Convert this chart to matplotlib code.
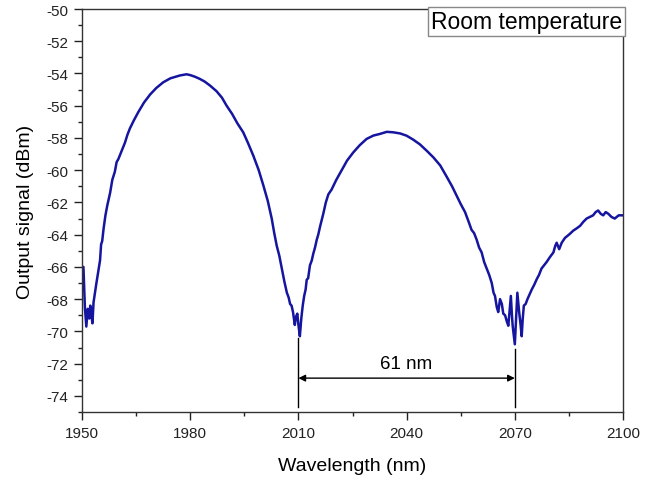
import matplotlib
matplotlib.use("Agg")
import matplotlib.pyplot as plt
from matplotlib.ticker import MultipleLocator

plt.rcParams['font.family'] = ['Liberation Sans', 'DejaVu Sans']
plt.rcParams['axes.unicode_minus'] = False

wavelength = [
    1950.0, 1950.4, 1950.8, 1951.2, 1951.6, 1952.0, 1952.3, 1952.6, 1952.9, 1953.2,
    1953.6, 1954.0, 1954.5, 1955.0, 1955.3, 1955.6, 1956.0, 1956.5, 1957.0, 1957.8,
    1958.4, 1959.1, 1959.6, 1960.1, 1961.0, 1961.9, 1962.6, 1963.3, 1964.4, 1965.6,
    1967.2, 1968.9, 1970.6, 1972.5, 1974.5, 1976.0, 1977.2, 1978.2, 1979.0, 1980.0,
    1981.3, 1982.7, 1984.0, 1985.5, 1987.3, 1988.8, 1990.1, 1991.6, 1993.1, 1994.7,
    1996.0, 1997.5, 1999.0, 2000.3, 2001.5, 2002.6, 2003.3, 2004.0, 2004.7, 2005.4,
    2006.1, 2006.8, 2007.3, 2007.7, 2008.1, 2008.5, 2009.0, 2009.3, 2009.7, 2010.0,
    2010.4, 2010.8, 2011.2, 2011.6, 2012.0, 2012.3, 2012.7, 2013.2, 2013.7, 2014.1,
    2014.6, 2015.1, 2015.5, 2016.0, 2016.9, 2017.6, 2018.3, 2019.2, 2020.5, 2022.0,
    2023.5, 2025.2, 2027.0, 2028.9, 2030.8, 2032.6, 2034.5, 2036.3, 2038.2, 2040.0,
    2041.8, 2043.7, 2045.6, 2047.4, 2049.3, 2051.1, 2052.6, 2053.9, 2055.0, 2056.2,
    2057.2, 2058.0, 2058.7, 2059.4, 2060.1, 2060.8, 2061.5, 2062.2, 2062.9, 2063.6,
    2064.1, 2064.5, 2065.0, 2065.4, 2065.9, 2066.4, 2066.8, 2067.3, 2067.8, 2068.2,
    2068.6, 2068.9, 2069.2, 2069.4, 2070.0, 2070.4, 2070.7, 2071.2, 2071.6, 2071.9,
    2072.2, 2072.5, 2073.0, 2073.5, 2074.1, 2074.7, 2075.4, 2076.1, 2076.7, 2077.4,
    2078.1, 2078.8, 2079.7, 2080.7, 2081.2, 2081.6, 2082.3, 2083.0, 2083.9, 2085.0,
    2086.2, 2087.2, 2088.1, 2089.0, 2089.9, 2090.8, 2091.7, 2092.4, 2093.1, 2093.8,
    2094.5, 2095.2, 2095.9, 2096.8, 2097.7, 2098.8, 2100.0,
]
signal_dbm = [
    -66.0, -66.0, -68.5, -69.7, -68.6, -69.2, -68.4, -69.0, -69.5, -68.2,
    -67.6, -67.0, -66.3, -65.6, -64.6, -64.4, -63.6, -62.8, -62.2, -61.4,
    -60.6, -60.1, -59.5, -59.3, -58.8, -58.3, -57.8, -57.4, -56.9, -56.4,
    -55.8, -55.3, -54.9, -54.55, -54.3, -54.2, -54.12, -54.08, -54.05, -54.1,
    -54.2, -54.34, -54.5, -54.75, -55.1, -55.5, -56.0, -56.5, -57.1, -57.65,
    -58.3, -59.1, -60.0, -60.96, -61.9, -63.0, -63.9, -64.7, -65.3, -66.1,
    -66.9, -67.6, -67.9, -68.3, -68.4, -68.8, -69.6, -69.1, -68.9, -69.6,
    -70.3, -69.2, -68.4, -67.8, -67.4, -66.8, -66.7, -65.9, -65.6, -65.2,
    -64.8, -64.3, -64.0, -63.5, -62.7, -62.0, -61.5, -61.2, -60.6, -60.0,
    -59.4, -58.9, -58.45, -58.06, -57.85, -57.75, -57.62, -57.65, -57.72, -57.86,
    -58.1, -58.4, -58.8, -59.2, -59.7, -60.4, -61.0, -61.6, -62.1, -62.6,
    -63.2, -63.7, -63.9, -64.3, -64.8, -65.1, -65.7, -66.1, -66.5, -67.0,
    -67.6, -67.8, -68.5, -68.8, -68.0, -68.3, -68.9, -69.0, -69.4, -69.65,
    -68.6, -67.8, -69.0, -69.65, -70.8, -69.0, -67.6, -68.8, -69.6, -70.3,
    -69.2, -68.4, -68.3, -68.0, -67.7, -67.4, -67.1, -66.75, -66.5, -66.1,
    -65.9, -65.7, -65.4, -65.1, -64.7, -64.5, -64.9, -64.5, -64.2, -64.0,
    -63.75, -63.6, -63.45, -63.2, -63.0, -62.9, -62.8, -62.6, -62.5, -62.7,
    -62.8, -62.6, -62.7, -62.9, -63.0, -62.8, -62.8,
]

x_ticks = [1950, 1980, 2010, 2040, 2070, 2100]
y_ticks = [-74, -72, -70, -68, -66, -64, -62, -60, -58, -56, -54, -52, -50]
dip_left, dip_right = 2010, 2070
dip_left_top, dip_right_top = -70.4, -71.1
marker_bottom = -74.7
arrow_y = -72.9
spacing_label = "61 nm"
annotation_text = "Room temperature"

fig = plt.figure(figsize=(6.57, 4.81), dpi=100)
ax = fig.add_axes([0.1248, 0.1414, 0.8235, 0.8378])

ax.plot(wavelength, signal_dbm, color='#1515a0', lw=1.8)

ax.set_xlim(1950, 2100)
ax.set_ylim(-75, -50)
ax.set_xticks(x_ticks)
ax.set_yticks(y_ticks)
ax.xaxis.set_minor_locator(MultipleLocator(15))
ax.yaxis.set_minor_locator(MultipleLocator(1))
ax.tick_params(which='major', direction='out', length=6, width=1, labelsize=11, pad=4, colors='#222222')
ax.tick_params(which='minor', direction='out', length=3, width=1, colors='#222222')
ax.tick_params(top=False, right=False, which='both')
for s in ax.spines.values():
    s.set_linewidth(1.0)
    s.set_color('#333333')

ax.set_xlabel("Wavelength (nm)", fontsize=14, labelpad=12)
ax.set_ylabel("Output signal (dBm)", fontsize=14, labelpad=9)

# dip markers
ax.plot([dip_left, dip_left], [dip_left_top, marker_bottom], color='black', lw=1.0)
ax.plot([dip_right, dip_right], [dip_right_top, marker_bottom], color='black', lw=1.0)
ax.annotate('', xy=(dip_left, arrow_y), xytext=(dip_right, arrow_y),
            arrowprops=dict(arrowstyle='<|-|>', color='black', lw=1.0,
                            shrinkA=0, shrinkB=0, mutation_scale=10))
ax.text((dip_left + dip_right) / 2, arrow_y + 0.4, spacing_label, ha='center', va='bottom',
        fontsize=13.5)

ax.text(0.998, 0.997, annotation_text, transform=ax.transAxes, ha='right', va='top',
        fontsize=16.5,
        bbox=dict(boxstyle='square,pad=0.12', fc='white', ec='#888888', lw=1.0))

fig.savefig('out.png', dpi=100)
